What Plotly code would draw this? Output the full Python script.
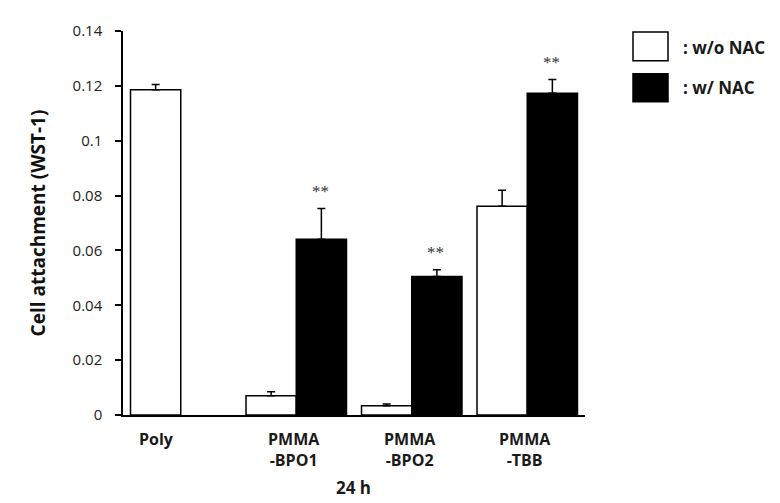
import plotly.graph_objects as go

categories = ["Poly", "PMMA-BPO1", "PMMA-BPO2", "PMMA-TBB"]
category_labels = ["Poly", "PMMA<br>-BPO1", "PMMA<br>-BPO2", "PMMA<br>-TBB"]
wo_nac = [0.1186, 0.0070, 0.0034, 0.0761]
wo_nac_err = [0.0019, 0.0015, 0.0006, 0.0058]
w_nac = [None, 0.0641, 0.0505, 0.1173]
w_nac_err = [0, 0.0112, 0.0025, 0.0050]
significance = ["", "**", "**", "**"]
y_ticks = [0, 0.02, 0.04, 0.06, 0.08, 0.1, 0.12, 0.14]

FONT = "'Open Sans', sans-serif"

# page is rendered with an 8px body margin; figure sized to fit
L, T, PW, PH = 115, 21, 462, 386
W, H = 772, 495
OX, OY = 8 + L, 8 + T          # page pixel of plot's top-left


def px(x):
    return (x - OX) / PW


def py(y):
    return (OY + PH - y) / PH


fig = go.Figure()
fig.add_trace(go.Bar(
    x=categories, y=wo_nac, name=": w/o NAC",
    marker=dict(color="white", line=dict(color="black", width=1.5)),
    error_y=dict(type="data", symmetric=False, array=wo_nac_err,
                 arrayminus=[0] * len(wo_nac_err), color="black",
                 thickness=1.5, width=4),
))
fig.add_trace(go.Bar(
    x=categories, y=w_nac, name=": w/ NAC",
    marker=dict(color="black", line=dict(color="black", width=1.5)),
    error_y=dict(type="data", symmetric=False, array=w_nac_err,
                 arrayminus=[0] * len(w_nac_err), color="black",
                 thickness=1.5, width=4),
))

annotations = []
for cat, lab in zip(categories, category_labels):
    annotations.append(dict(
        x=cat, y=0, xref="x", yref="y", text="<b>" + lab + "</b>",
        showarrow=False, yanchor="top", yshift=-11,
        xshift=-24 if cat == "Poly" else -2,
        font=dict(family=FONT, size=16, color="#1a1a1a")))
for cat, v, e, s in zip(categories, w_nac, w_nac_err, significance):
    if s and v is not None:
        annotations.append(dict(
            x=cat, y=v + e, xref="x", yref="y", text=s, showarrow=False,
            xshift=24, yanchor="middle", yshift=17,
            font=dict(family="'Liberation Serif', serif", size=17, color="#333")))

annotations += [
    dict(x=px(353), y=py(488), xref="paper", yref="paper", text="<b>24 h</b>",
         xanchor="center", yanchor="middle",
         showarrow=False, font=dict(family=FONT, size=17, color="#1a1a1a")),
    dict(x=px(681), y=py(46), xref="paper", yref="paper",
         text="<b>: w/o NAC</b>", showarrow=False, xanchor="left",
         yanchor="middle",
         font=dict(family=FONT, size=17, color="#1a1a1a")),
    dict(x=px(681), y=py(86), xref="paper", yref="paper",
         text="<b>: w/ NAC</b>", showarrow=False, xanchor="left",
         yanchor="middle",
         font=dict(family=FONT, size=17, color="#1a1a1a")),
]

fig.update_layout(
    width=W, height=H,
    margin=dict(l=L, r=W - L - PW, t=T, b=H - T - PH),
    plot_bgcolor="white", paper_bgcolor="white",
    barmode="group", bargap=0.13, bargroupgap=0,
    showlegend=False,
    xaxis=dict(showline=True, linecolor="black", linewidth=1.5,
               showticklabels=False, ticks="", range=[-0.5, 3.5]),
    yaxis=dict(range=[0, 0.14], tickvals=y_ticks, showline=True,
               linecolor="black", linewidth=1.5, ticks="outside",
               ticklen=6, tickwidth=1.5, tickcolor="black", showgrid=False,
               zeroline=False, ticklabelstandoff=10,
               tickfont=dict(family=FONT, size=15, color="#222"),
               title=dict(text="<b>Cell attachment (WST-1)</b>", standoff=22,
                          font=dict(family=FONT, size=19, color="#111"))),
    annotations=annotations,
)

# legend boxes
fig.add_shape(type="rect", xref="paper", yref="paper",
              x0=px(633), x1=px(668), y0=py(59), y1=py(30),
              fillcolor="white", line=dict(color="black", width=1.5))
fig.add_shape(type="rect", xref="paper", yref="paper",
              x0=px(633), x1=px(668), y0=py(100), y1=py(72),
              fillcolor="black", line=dict(color="black", width=1.5))

fig.write_html("out.html")
